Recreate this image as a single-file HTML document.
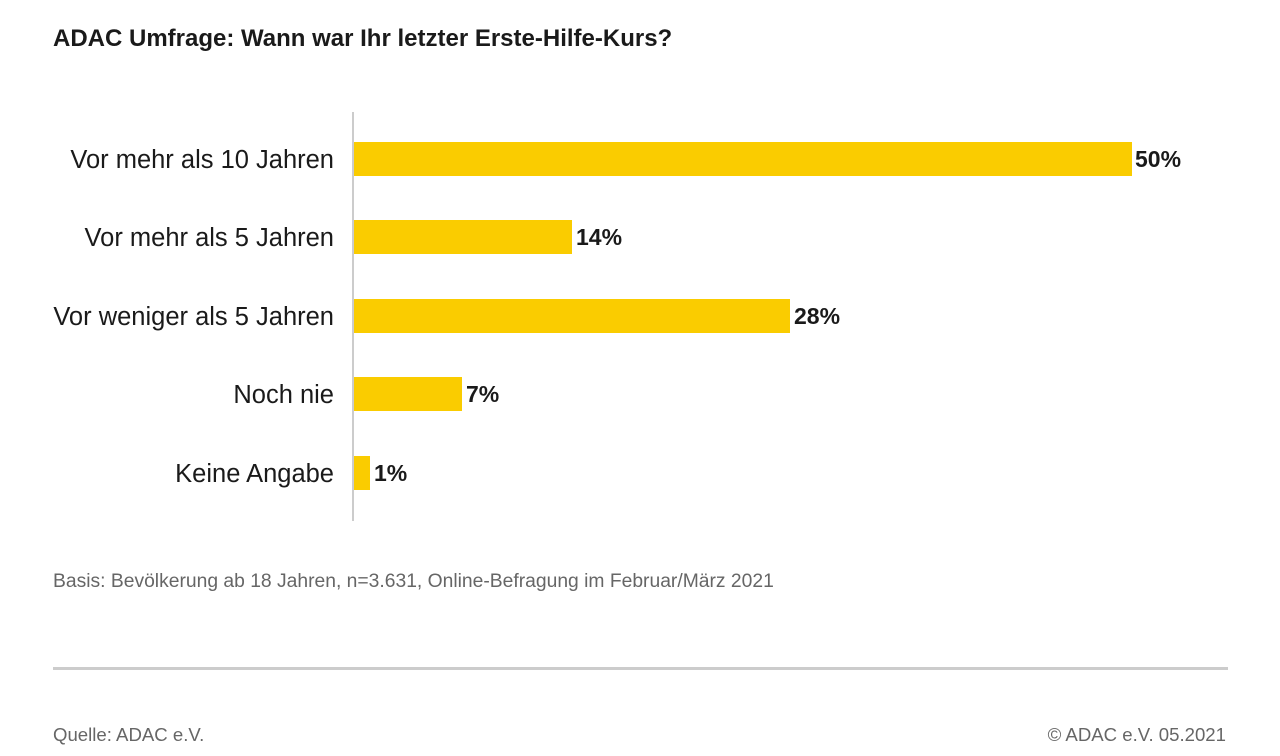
<!DOCTYPE html><html><head><style>
body{margin:0;width:1280px;height:756px;background:#fff;font-family:"Liberation Sans","DejaVu Sans",sans-serif;position:relative;overflow:hidden;color:#1a1a1a}
div{position:absolute}
.t{left:53px;top:25px;font-size:24px;font-weight:bold;color:#1a1a1a}
.l{right:946px;font-size:25.5px;text-align:right;white-space:nowrap;line-height:34px}
.b{left:354px;height:34px;background:#facc00}
.v{font-size:23px;font-weight:bold;line-height:34px}
.g{color:#666;font-size:19.3px}
.f{color:#666;font-size:18.6px}
</style></head><body>
<div class="t">ADAC Umfrage: Wann war Ihr letzter Erste-Hilfe-Kurs?</div>
<div style="left:352px;top:112px;width:2px;height:409px;background:#ccc"></div>
<div class="l" style="top:143px">Vor mehr als 10 Jahren</div>
<div class="b" style="top:142px;width:778px"></div><div class="v" style="left:1135px;top:142px">50%</div>
<div class="l" style="top:221px">Vor mehr als 5 Jahren</div>
<div class="b" style="top:220px;width:218px"></div><div class="v" style="left:576px;top:220px">14%</div>
<div class="l" style="top:300px">Vor weniger als 5 Jahren</div>
<div class="b" style="top:299px;width:436px"></div><div class="v" style="left:794px;top:299px">28%</div>
<div class="l" style="top:378px">Noch nie</div>
<div class="b" style="top:377px;width:108px"></div><div class="v" style="left:466px;top:377px">7%</div>
<div class="l" style="top:457px">Keine Angabe</div>
<div class="b" style="top:456px;width:16px"></div><div class="v" style="left:374px;top:456px">1%</div>
<div class="g" style="left:53px;top:571px">Basis: Bevölkerung ab 18 Jahren, n=3.631, Online-Befragung im Februar/März 2021</div>
<div style="left:53px;top:667px;width:1175px;height:3px;background:#ccc"></div>
<div class="f" style="left:53px;top:724px">Quelle: ADAC e.V.</div>
<div class="f" style="right:54px;top:724px">© ADAC e.V. 05.2021</div>
</body></html>
